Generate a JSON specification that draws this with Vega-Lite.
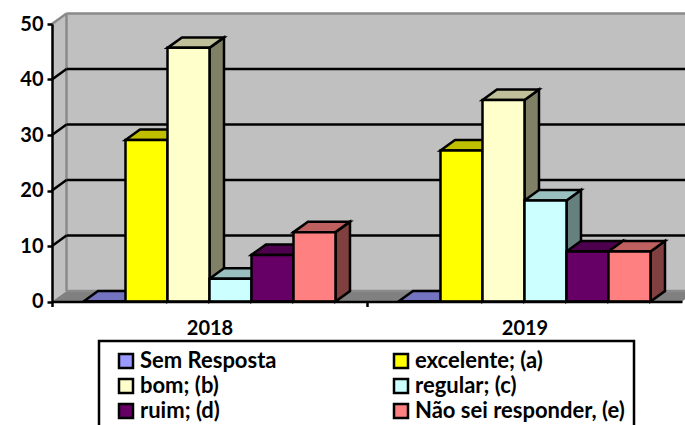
{
"$schema":"https://vega.github.io/schema/vega-lite/v6.json",
"width":630,"height":277.5,
"autosize":{"type":"none"},
"padding":{"left":52,"top":24,"right":3,"bottom":123.5},
"background":"white",
"config":{"view":{"stroke":null},"font":"Lato"},
"params":[{"name":"dx","value":0.345},{"name":"dy","value":1.89}],
"resolve":{"scale":{"fill":"independent"}},
"layer":[
{"data":{"values":[{"t":0},{"t":1}]},
 "transform":[{"calculate":"datum.t*dx","as":"px"},{"calculate":"datum.t*dy","as":"lo"},{"calculate":"50+datum.t*dy","as":"hi"}],
 "mark":{"type":"area","fill":"#c0c0c0","stroke":null},
 "encoding":{"x":{"field":"px","type":"quantitative","scale":{"domain":[0,15],"nice":false,"zero":false},
   "axis":{"values":[0,3.75,7.5,11.25,15],"title":null,"grid":false,"domainColor":"black","domainWidth":2.5,"tickColor":"black","tickWidth":2.5,"tickSize":5,"tickOpacity":{"condition":{"test":"datum.value==3.75||datum.value==11.25||datum.value==15","value":0},"value":1},"labelExpr":"datum.value==3.75?'2018':datum.value==11.25?'2019':''","labelFont":"Lato","labelFontWeight":"bold","labelFontSize":20,"labelColor":"black","labelPadding":12,"labelFlush":false,"labelOverlap":false,"zindex":1}},
  "y":{"field":"hi","type":"quantitative","scale":{"domain":[0,50],"nice":false,"zero":false},
   "axis":{"values":[0,10,20,30,40,50],"title":null,"grid":false,"domainColor":"black","domainWidth":2.5,"tickColor":"black","tickWidth":2.5,"tickSize":5,"labelFont":"Lato","labelFontWeight":"bold","labelFontSize":20,"labelColor":"black","labelPadding":4,"labelFlush":false,"zindex":1}},
  "y2":{"field":"lo"}}},
{"data":{"values":[{"x0":0.345,"x1":15.345,"y0":1.89,"y1":51.89}]},
 "mark":{"type":"rect","fill":"#c0c0c0"},
 "encoding":{"x":{"field":"x0","type":"quantitative","scale":{"domain":[0,15],"nice":false,"zero":false}},"x2":{"field":"x1"},
  "y":{"field":"y0","type":"quantitative","scale":{"domain":[0,50],"nice":false,"zero":false}},"y2":{"field":"y1"}}},
{"data":{"values":[{"t":0},{"t":1},{"t":2},{"t":3}]},
 "transform":[{"calculate":"[0,dx,15,15+dx][datum.t]","as":"px"},{"calculate":"datum.t==3?dy:0","as":"lo"},{"calculate":"datum.t==0?0:dy","as":"hi"}],
 "mark":{"type":"area","fill":"#808080","stroke":null},
 "encoding":{"x":{"field":"px","type":"quantitative","scale":{"domain":[0,15],"nice":false,"zero":false}},
  "y":{"field":"hi","type":"quantitative","scale":{"domain":[0,50],"nice":false,"zero":false}},"y2":{"field":"lo"}}},
{"data":{"values":[{"a":0.345,"b":15.345,"c":51.89,"d":51.89,"k":"h"},{"a":0,"b":0.345,"c":50,"d":51.89,"k":"d"},{"a":0.345,"b":15.345,"c":1.89,"d":1.89,"k":"f"}]},
 "mark":{"type":"rule","stroke":"#8a8a8a","strokeWidth":2.5},
 "encoding":{"x":{"field":"a","type":"quantitative","scale":{"domain":[0,15],"nice":false,"zero":false}},"x2":{"field":"b"},
  "y":{"field":"c","type":"quantitative","scale":{"domain":[0,50],"nice":false,"zero":false}},"y2":{"field":"d"},"detail":{"field":"k"}}},
{"data":{"values":[{"a":0.345,"c":1.89,"d":51.89}]},
 "mark":{"type":"rule","stroke":"#8a8a8a","strokeWidth":2.5},
 "encoding":{"x":{"field":"a","type":"quantitative","scale":{"domain":[0,15],"nice":false,"zero":false}},
  "y":{"field":"c","type":"quantitative","scale":{"domain":[0,50],"nice":false,"zero":false}},"y2":{"field":"d"}}},
{"data":{"values":[{"v":10},{"v":20},{"v":30},{"v":40}]},
 "transform":[{"calculate":"datum.v+dy","as":"vb"},{"calculate":"dx","as":"b0"},{"calculate":"15+dx","as":"b1"}],
 "mark":{"type":"rule","stroke":"black","strokeWidth":2.5},
 "encoding":{"x":{"field":"b0","type":"quantitative","scale":{"domain":[0,15],"nice":false,"zero":false}},"x2":{"field":"b1"},
  "y":{"field":"vb","type":"quantitative","scale":{"domain":[0,50],"nice":false,"zero":false}}}},
{"data":{"values":[{"v":10},{"v":20},{"v":30},{"v":40}]},
 "transform":[{"calculate":"datum.v+dy","as":"vb"},{"calculate":"0","as":"b0"},{"calculate":"dx","as":"b1"}],
 "mark":{"type":"rule","stroke":"black","strokeWidth":2.5},
 "encoding":{"x":{"field":"b0","type":"quantitative","scale":{"domain":[0,15],"nice":false,"zero":false}},"x2":{"field":"b1"},
  "y":{"field":"v","type":"quantitative","scale":{"domain":[0,50],"nice":false,"zero":false}},"y2":{"field":"vb"},"detail":{"field":"v"}}},
{"data":{"name":"bars"},
 "transform":[{"calculate":"[0,1]","as":"t"},{"flatten":["t"]},
  {"calculate":"(datum.ano==2018?0:7.5)+0.75+indexof(['Sem Resposta','excelente; (a)','bom; (b)','regular; (c)','ruim; (d)','Não sei responder, (e)'],datum.serie)","as":"p"},
  {"calculate":"datum.p+1+datum.t*dx","as":"px"},{"calculate":"datum.t*dy","as":"lo"},{"calculate":"datum.valor+datum.t*dy","as":"hi"},
  {"calculate":"datum.serie+datum.ano","as":"id"}],
 "mark":{"type":"area","stroke":"black","strokeWidth":2.5,"strokeJoin":"miter","opacity":1},
 "encoding":{"x":{"field":"px","type":"quantitative","scale":{"domain":[0,15],"nice":false,"zero":false}},
  "y":{"field":"hi","type":"quantitative","scale":{"domain":[0,50],"nice":false,"zero":false}},"y2":{"field":"lo"},
  "detail":{"field":"id"},
  "fill":{"field":"serie","type":"nominal","legend":null,"scale":{"domain":["Sem Resposta","excelente; (a)","bom; (b)","regular; (c)","ruim; (d)","Não sei responder, (e)"],"range":["#4d4d80","#808000","#808066","#668080","#330033","#804040"]}}}},
{"data":{"name":"bars"},
 "transform":[{"calculate":"[0,1,2,3]","as":"t"},{"flatten":["t"]},
  {"calculate":"(datum.ano==2018?0:7.5)+0.75+indexof(['Sem Resposta','excelente; (a)','bom; (b)','regular; (c)','ruim; (d)','Não sei responder, (e)'],datum.serie)","as":"p"},
  {"calculate":"datum.p+[0,dx,1,1+dx][datum.t]","as":"px"},{"calculate":"datum.valor+(datum.t==3?dy:0)","as":"lo"},{"calculate":"datum.valor+(datum.t==0?0:dy)","as":"hi"},
  {"calculate":"datum.serie+datum.ano","as":"id"}],
 "mark":{"type":"area","stroke":"black","strokeWidth":2.5,"strokeJoin":"miter","opacity":1},
 "encoding":{"x":{"field":"px","type":"quantitative","scale":{"domain":[0,15],"nice":false,"zero":false}},
  "y":{"field":"hi","type":"quantitative","scale":{"domain":[0,50],"nice":false,"zero":false}},"y2":{"field":"lo"},
  "detail":{"field":"id"},
  "fill":{"field":"serie","type":"nominal","legend":null,"scale":{"domain":["Sem Resposta","excelente; (a)","bom; (b)","regular; (c)","ruim; (d)","Não sei responder, (e)"],"range":["#7373bf","#bfbf00","#bfbf99","#99bfbf","#4d004d","#bf6060"]}}}},
{"data":{"name":"bars"},
 "transform":[
  {"calculate":"(datum.ano==2018?0:7.5)+0.75+indexof(['Sem Resposta','excelente; (a)','bom; (b)','regular; (c)','ruim; (d)','Não sei responder, (e)'],datum.serie)","as":"p"},
  {"calculate":"datum.p+1","as":"p2"},{"calculate":"0","as":"base"}],
 "mark":{"type":"rect","stroke":"black","strokeWidth":2.5,"opacity":1},
 "encoding":{"x":{"field":"p","type":"quantitative","scale":{"domain":[0,15],"nice":false,"zero":false}},"x2":{"field":"p2"},
  "y":{"field":"valor","type":"quantitative","scale":{"domain":[0,50],"nice":false,"zero":false}},"y2":{"field":"base"},
  "fill":{"field":"serie","type":"nominal","scale":{"domain":["Sem Resposta","excelente; (a)","bom; (b)","regular; (c)","ruim; (d)","Não sei responder, (e)"],"range":["#9999ff","#ffff00","#ffffcc","#ccffff","#660066","#ff8080"]},
   "legend":{"orient":"none","legendX":47,"legendY":317,"direction":"horizontal","columns":2,"title":null,"symbolType":"square","symbolSize":196,"symbolStrokeColor":"black","symbolStrokeWidth":2.5,"symbolOpacity":1,"symbolOffset":7,"labelFont":"Lato","labelFontWeight":"bold","labelFontSize":22,"labelColor":"black","labelLimit":400,"labelOffset":3,"rowPadding":1,"columnPadding":106,"padding":9,"strokeColor":"black","fillColor":"white","gridAlign":"each","encode":{"legend":{"update":{"strokeWidth":{"value":2.5}}}}}}}}
],
"datasets":{"bars":[
{"ano":2018,"serie":"Sem Resposta","valor":0},
{"ano":2018,"serie":"excelente; (a)","valor":29.1},
{"ano":2018,"serie":"bom; (b)","valor":45.7},
{"ano":2018,"serie":"regular; (c)","valor":4.1},
{"ano":2018,"serie":"ruim; (d)","valor":8.4},
{"ano":2018,"serie":"Não sei responder, (e)","valor":12.5},
{"ano":2019,"serie":"Sem Resposta","valor":0},
{"ano":2019,"serie":"excelente; (a)","valor":27.2},
{"ano":2019,"serie":"bom; (b)","valor":36.3},
{"ano":2019,"serie":"regular; (c)","valor":18.2},
{"ano":2019,"serie":"ruim; (d)","valor":9},
{"ano":2019,"serie":"Não sei responder, (e)","valor":9}
]}
}
